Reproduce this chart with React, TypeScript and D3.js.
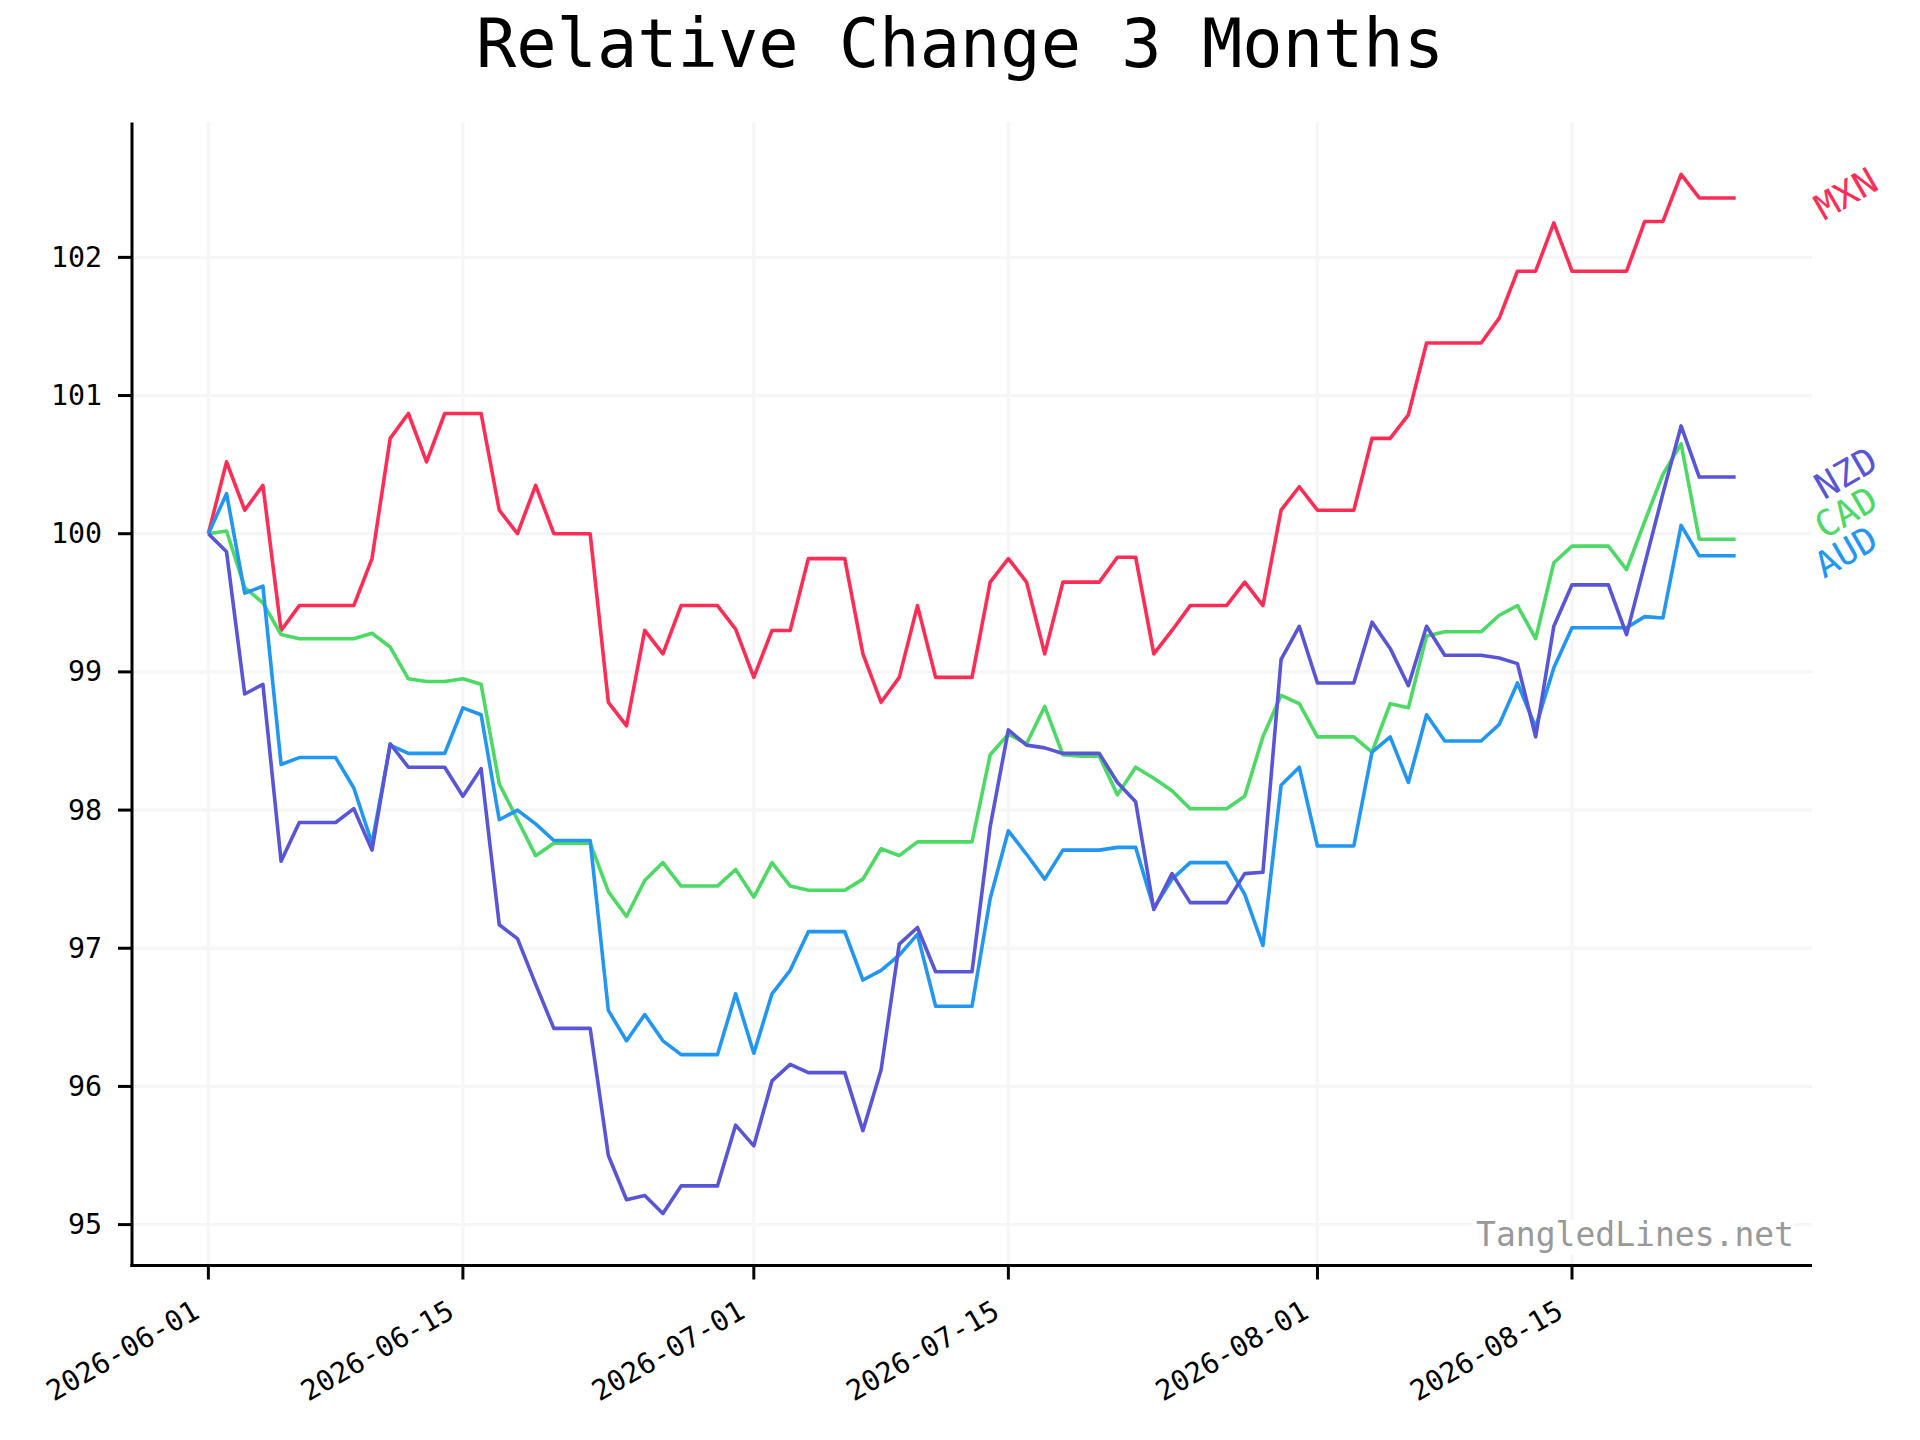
import React from "react";
import * as d3 from "d3";

const TITLE = "Relative Change 3 Months";
const WATERMARK = "TangledLines.net";
const START_DATE = "2026-06-01";
const X_TICKS = ["2026-06-01", "2026-06-15", "2026-07-01", "2026-07-15", "2026-08-01", "2026-08-15"];
const Y_TICKS = [95, 96, 97, 98, 99, 100, 101, 102];

const MXN = [
  100, 100.52, 100.17, 100.35, 99.3, 99.48, 99.48, 99.48, 99.48, 99.82,
  100.69, 100.87, 100.52, 100.87, 100.87, 100.87, 100.17, 100.0, 100.35, 100.0,
  100.0, 100.0, 98.78, 98.61, 99.3, 99.13, 99.48, 99.48, 99.48, 99.31,
  98.96, 99.3, 99.3, 99.82, 99.82, 99.82, 99.13, 98.78, 98.96, 99.48,
  98.96, 98.96, 98.96, 99.65, 99.82, 99.65, 99.13, 99.65, 99.65, 99.65,
  99.83, 99.83, 99.13, 99.3, 99.48, 99.48, 99.48, 99.65, 99.48, 100.17,
  100.34, 100.17, 100.17, 100.17, 100.69, 100.69, 100.86, 101.38, 101.38, 101.38,
  101.38, 101.56, 101.9, 101.9, 102.25, 101.9, 101.9, 101.9, 101.9, 102.26,
  102.26, 102.6, 102.43, 102.43, 102.43,
];

const CAD = [
  100, 100.02, 99.61, 99.5, 99.27, 99.24, 99.24, 99.24, 99.24, 99.28,
  99.18, 98.95, 98.93, 98.93, 98.95, 98.91, 98.19, 97.93, 97.67, 97.76,
  97.76, 97.76, 97.41, 97.23, 97.49, 97.62, 97.45, 97.45, 97.45, 97.57,
  97.37, 97.62, 97.45, 97.42, 97.42, 97.42, 97.5, 97.72, 97.67, 97.77,
  97.77, 97.77, 97.77, 98.4, 98.55, 98.48, 98.75, 98.4, 98.39, 98.39,
  98.11, 98.31, 98.23, 98.14, 98.01, 98.01, 98.01, 98.1, 98.53, 98.83,
  98.77, 98.53, 98.53, 98.53, 98.42, 98.77, 98.74, 99.26, 99.29, 99.29,
  99.29, 99.41, 99.48, 99.24, 99.79, 99.91, 99.91, 99.91, 99.74, 100.09,
  100.43, 100.65, 99.96, 99.96, 99.96,
];

const AUD = [
  100, 100.29, 99.57, 99.62, 98.33, 98.38, 98.38, 98.38, 98.16, 97.76,
  98.47, 98.41, 98.41, 98.41, 98.74, 98.69, 97.93, 98.0, 97.9, 97.78,
  97.78, 97.78, 96.55, 96.33, 96.52, 96.33, 96.23, 96.23, 96.23, 96.67,
  96.24, 96.67, 96.84, 97.12, 97.12, 97.12, 96.77, 96.84, 96.95, 97.1,
  96.58, 96.58, 96.58, 97.36, 97.85, 97.68, 97.5, 97.71, 97.71, 97.71,
  97.73, 97.73, 97.29, 97.5, 97.62, 97.62, 97.62, 97.39, 97.02, 98.18,
  98.31, 97.74, 97.74, 97.74, 98.42, 98.53, 98.2, 98.69, 98.5, 98.5,
  98.5, 98.62, 98.92, 98.6, 99.03, 99.32, 99.32, 99.32, 99.32, 99.4,
  99.39, 100.06, 99.84, 99.84, 99.84,
];

const NZD = [
  100, 99.87, 98.84, 98.91, 97.63, 97.91, 97.91, 97.91, 98.01, 97.71,
  98.48, 98.31, 98.31, 98.31, 98.1, 98.3, 97.17, 97.07, 96.74, 96.42,
  96.42, 96.42, 95.5, 95.18, 95.21, 95.08, 95.28, 95.28, 95.28, 95.72,
  95.57, 96.04, 96.16, 96.1, 96.1, 96.1, 95.68, 96.12, 97.03, 97.15,
  96.83, 96.83, 96.83, 97.88, 98.58, 98.47, 98.45, 98.41, 98.41, 98.41,
  98.2, 98.06, 97.28, 97.54, 97.33, 97.33, 97.33, 97.54, 97.55, 99.09,
  99.33, 98.92, 98.92, 98.92, 99.36, 99.17, 98.9, 99.33, 99.12, 99.12,
  99.12, 99.1, 99.06, 98.53, 99.33, 99.63, 99.63, 99.63, 99.27, 99.78,
  100.29, 100.78, 100.41, 100.41, 100.41,
];

const SERIES_NAMES = ["MXN", "CAD", "AUD", "NZD"];
const SERIES_COLORS = ["#FF2D55", "#4CD964", "#2196F3", "#5856D6"];
const SERIES_VALUES = [MXN, CAD, AUD, NZD];

const W = 1920;
const H = 1440;
const LEFT = 132;
const RIGHT = 1812;
const TOP = 122.5;
const BOTTOM = 1265.5;
const FONT = "'DejaVu Sans Mono', monospace";

export default function App() {
  const start = new Date(START_DATE + "T00:00:00Z");
  const dates = MXN.map((_, i) => d3.utcDay.offset(start, i));
  const t0 = +dates[0];
  const t1 = +dates[dates.length - 1];
  const tSpan = t1 - t0;
  const x = d3
    .scaleUtc()
    .domain([new Date(t0 - 0.05 * tSpan), new Date(t1 + 0.05 * tSpan)])
    .range([LEFT, RIGHT]);

  const all = SERIES_VALUES.flat();
  const vMin = d3.min(all) as number;
  const vMax = d3.max(all) as number;
  const vSpan = vMax - vMin;
  const y = d3
    .scaleLinear()
    .domain([vMin - 0.05 * vSpan, vMax + 0.05 * vSpan])
    .range([BOTTOM, TOP]);

  const line = d3
    .line<number>()
    .x((_, i) => x(dates[i]))
    .y((v) => y(v));

  const xTickDates = X_TICKS.map((s) => new Date(s + "T00:00:00Z"));

  // labels at the right edge, spread if overlapping
  const labels = SERIES_NAMES.map((name, i) => ({
    name,
    color: SERIES_COLORS[i],
    y: y(SERIES_VALUES[i][SERIES_VALUES[i].length - 1]),
  })).sort((a, b) => a.y - b.y);
  const GAP = 40;
  for (let i = 1; i < labels.length - 1; i++) {
    const a = labels[i - 1].y;
    const b = labels[i].y;
    const c = labels[i + 1].y;
    if (b - a < GAP || c - b < GAP) {
      labels[i].y = (a + c) / 2;
    }
  }

  return (
    <div style={{ position: "absolute", left: 0, top: 0, width: W, height: H, background: "#fff" }}>
      <svg width={W} height={H} viewBox={`0 0 ${W} ${H}`} style={{ display: "block" }}>
        <rect x={0} y={0} width={W} height={H} fill="#ffffff" />
        {/* grid */}
        <g stroke="#f6f6f6" strokeWidth={3.3}>
          {Y_TICKS.map((t) => (
            <line key={"gy" + t} x1={LEFT} x2={RIGHT} y1={y(t)} y2={y(t)} />
          ))}
          {xTickDates.map((d, i) => (
            <line key={"gx" + i} x1={x(d)} x2={x(d)} y1={TOP} y2={BOTTOM} />
          ))}
        </g>
        {/* watermark */}
        <g>
          <rect x={RIGHT - 340} y={1220} width={322} height={35} fill="#ffffff" />
          <text
            x={RIGHT - 18}
            y={1246}
            textAnchor="end"
            fontFamily={FONT}
            fontSize={33}
            fill="#999999"
          >
            {WATERMARK}
          </text>
        </g>
        {/* lines */}
        <g fill="none" strokeWidth={3.6} strokeLinejoin="round" strokeLinecap="butt">
          {SERIES_VALUES.map((vals, i) => (
            <path key={SERIES_NAMES[i]} d={line(vals) || ""} stroke={SERIES_COLORS[i]} />
          ))}
        </g>
        {/* spines */}
        <g stroke="#000" strokeWidth={3}>
          <line x1={LEFT} x2={LEFT} y1={TOP} y2={BOTTOM + 1.5} />
          <line x1={LEFT - 1.5} x2={RIGHT} y1={BOTTOM} y2={BOTTOM} />
        </g>
        {/* y ticks */}
        <g>
          {Y_TICKS.map((t) => (
            <g key={"yt" + t}>
              <line x1={LEFT - 14} x2={LEFT} y1={y(t)} y2={y(t)} stroke="#000" strokeWidth={3} />
              <text
                x={LEFT - 30}
                y={y(t)}
                dominantBaseline="central"
                textAnchor="end"
                fontFamily={FONT}
                fontSize={28.3}
                fill="#000"
              >
                {t}
              </text>
            </g>
          ))}
        </g>
        {/* x ticks */}
        <g>
          {xTickDates.map((d, i) => {
            const px = x(d);
            const bx = px - 7;
            const by = BOTTOM + 51;
            return (
              <g key={"xt" + i}>
                <line x1={px} x2={px} y1={BOTTOM} y2={BOTTOM + 14} stroke="#000" strokeWidth={3} />
                <text
                  x={bx}
                  y={by}
                  textAnchor="end"
                  transform={`rotate(-30 ${bx} ${by})`}
                  fontFamily={FONT}
                  fontSize={28.3}
                  fill="#000"
                >
                  {X_TICKS[i]}
                </text>
              </g>
            );
          })}
        </g>
        {/* series labels */}
        <g>
          {labels.map((l) => {
            const cx = RIGHT + 34;
            const cy = l.y - 4;
            return (
              <text
                key={"lbl" + l.name}
                x={cx}
                y={cy}
                textAnchor="middle"
                dominantBaseline="central"
                transform={`rotate(-30 ${cx} ${cy})`}
                fontFamily={FONT}
                fontSize={36}
                fill={l.color}
              >
                {l.name}
              </text>
            );
          })}
        </g>
        {/* title */}
        <text x={W / 2} y={67} textAnchor="middle" fontFamily={FONT} fontSize={67} fill="#000">
          {TITLE}
        </text>
      </svg>
    </div>
  );
}
